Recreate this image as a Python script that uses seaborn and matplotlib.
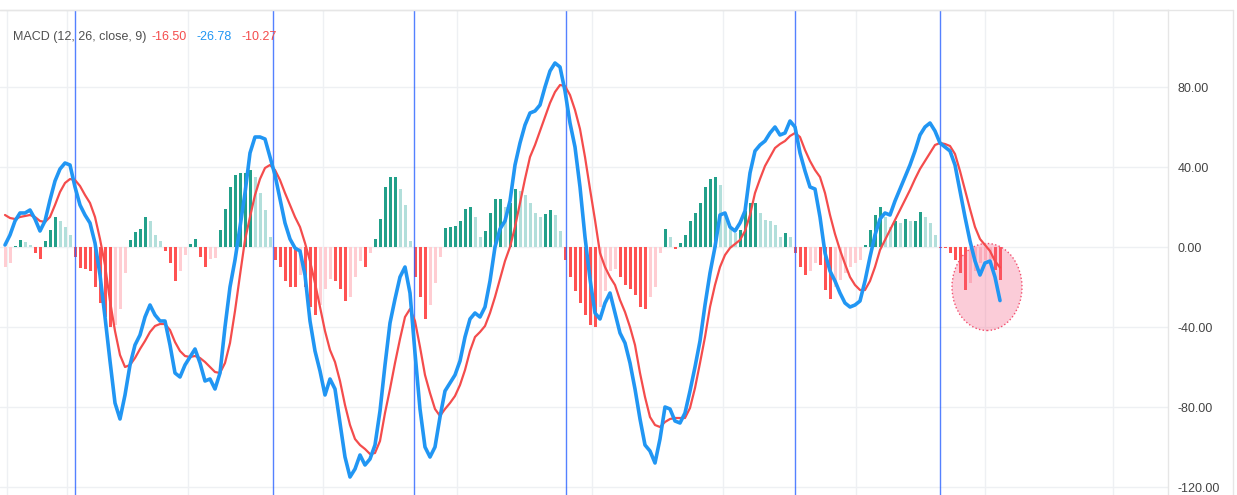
#!/usr/bin/env python3

import numpy as np
import pandas as pd
import matplotlib
matplotlib.use("Agg")
import matplotlib.pyplot as plt
from matplotlib.patches import Ellipse
from matplotlib.lines import Line2D
import seaborn as sns

# MACD line values, one per bar
macd = [
    1, 6, 13, 17, 17, 18.5, 14, 8, 13, 23.5,
    33, 39, 42, 41, 30, 21, 16, 12, 2, -14,
    -35, -57, -78, -86, -74, -59, -49, -44, -35, -29,
    -34, -37, -37, -49, -63, -65, -59, -55, -51, -58,
    -67, -66, -71, -63, -40, -20, -6.5, 10, 27, 47,
    55, 55, 54, 45, 36, 24, 12, 4, -0.5, -2,
    -14, -37, -52, -62, -74, -66, -71, -88, -105, -115,
    -111, -104, -109, -106, -99, -82, -59, -38, -26, -15,
    -10, -23, -53, -81, -100, -105, -100, -85, -72, -68,
    -64, -57, -45, -36, -33, -35, -30, -17, 0, 9,
    13, 23, 41, 52, 61, 67, 68, 71, 80, 88,
    92, 90, 78, 62, 50, 30, 5, -16, -33, -36,
    -28, -23, -33, -43, -48, -58, -71, -86, -99, -102,
    -108, -96, -80, -81, -87, -88, -83, -72, -60, -47,
    -29, -13, 0, 16, 17, 10, 8, 12, 18, 37,
    48, 51, 53, 57, 60, 56, 57, 63, 60, 47,
    38, 30, 29, 15, -3, -12, -17, -23, -28, -30,
    -29, -27, -17, -5, 6, 14, 17, 16, 23, 29,
    35, 41, 48, 56, 60, 62, 58, 52, 50, 48,
    41, 28, 15, 3, -7, -14, -8, -7, -15, -26.78,
]

# signal line
signal = [
    16, 14.5, 14, 15, 15.5, 16, 15, 13, 12.5, 15,
    21, 27.5, 32, 34, 33.5, 30.5, 26, 22, 15, 4,
    -9, -27, -42, -54, -60, -59, -55.5, -51, -47, -42.5,
    -39.5, -38.5, -38.5, -41.5, -47.5, -52, -54.5, -55, -54.5, -55.5,
    -57.5, -60, -62.5, -63, -58, -48, -32, -14, 3.5, 15,
    26, 34, 39.5, 41, 38.5, 33.5, 27, 21, 15, 10,
    2, -7, -18, -30, -42, -51.5, -57.5, -67, -79, -89,
    -96, -99, -101, -103.5, -103, -97, -83, -71, -58, -46,
    -35, -31, -37, -50, -64, -73, -81, -84.5, -81, -78,
    -74.5, -69, -61.5, -52, -45, -42.5, -39.5, -33, -25, -16,
    -7, 0, 10, 22, 34, 45, 51, 58, 65, 72,
    77.5, 81, 80.5, 76, 68.5, 59, 45, 29, 13.5, -3,
    -10, -15, -19, -26.5, -32.5, -40, -49, -63, -75, -85,
    -89, -90, -87.5, -86, -85.5, -85.5, -85.5, -80.5, -70.5, -58,
    -45, -30, -19, -10, -4, -0.5, 1.5, 3.5, 8, 16,
    27, 34, 40.5, 45, 49.5, 51.5, 53, 55.5, 57, 55,
    48.5, 43, 38.5, 35, 27, 16, 6.5, -1.5, -8.5, -15,
    -19, -21.5, -21.5, -17, -10, -1.5, 3.5, 8.5, 13.5, 18.5,
    23.5, 28.5, 34, 39, 43, 47, 51, 52, 51.5, 50.5,
    46.5, 38, 28.5, 19, 10, 4, 1, -2, -7, -10.27,
]

# histogram bars
hist = [
    -10, -8, 0.5, 3.5, 2.5, 1, -3, -6, 3, 8.5,
    15, 13, 10, 6, -5, -10.5, -11, -12, -20, -28,
    -35, -40, -39, -31, -13, 3.5, 7.5, 9, 15, 13,
    6, 3, -2, -8, -17, -12, -4, 1.5, 4, -5,
    -10, -6, -5.5, 8.5, 19, 30, 36, 37, 37, 38.5,
    35, 27, 18.5, 5, -6.5, -10, -17, -20, -20, -14,
    -20, -30, -34, -29, -21, -16, -17, -21, -27, -25,
    -15, -7, -10, -3, 4, 14, 30, 35, 35, 29,
    21, 3, -15, -25, -36, -29, -18, -5, 9.5, 10,
    10.5, 13, 19, 20, 15, 5, 8, 17, 24, 24,
    20, 22, 29, 28, 26, 22, 17, 15, 16.5, 18.5,
    16, 8, -6.5, -15, -22, -28, -34, -39, -40, -30,
    -22, -12, -11, -15, -19, -21, -24, -30, -31, -25,
    -20, -3, 9, 5, -1, 2, 6, 13, 17, 22,
    30, 34, 35, 31, 17, 10, 7, 8.5, 18, 22,
    22, 17, 13.5, 13, 11, 5, 7, 5, -3, -10,
    -14, -12, -8, -9, -21.5, -26, -20, -16.5, -13, -10,
    -8, -6.5, 1, 8.5, 16, 20, 15, 10, 13, 12,
    14, 13, 13, 17.7, 15, 11.8, 6, -0.5, -0.7, -3,
    -6.5, -13, -21.5, -18, -12, -8, -6.5, -6, -11.5, -16.5,
]

# bar positions of the blue vertical markers and of the time grid
event_bars = [14, 53.6, 81.8, 112.2, 158, 187]
grid_bars = [0.4, 12.4, 36.6, 63.6, 90.4, 117.4, 143.6, 170.2, 196, 221.6]
y_ticks = [-120, -80, -40, 0, 40, 80]
title = "MACD (12, 26, close, 9)"
last_vals = ["-16.50", "-26.78", "-10.27"]

sns.set_theme(style="white")
plt.rcParams['font.family'] = ['Liberation Sans', 'DejaVu Sans']

df = pd.DataFrame({'bar': np.arange(len(macd)), 'macd': macd,
                   'signal': signal, 'hist': hist})


# tradingview histogram colouring: strong when growing, pale when shrinking
def bar_color(h, prev):
    if h >= 0:
        return '#22a08a' if h >= prev else '#b2dfdb'
    return '#ff5252' if h <= prev else '#ffcdd2'


prev = df['hist'].shift(1).fillna(-20)
df['color'] = [bar_color(h, p) for h, p in zip(df['hist'], prev)]

fig = plt.figure(figsize=(12.37, 4.95), dpi=100)
ax = fig.add_axes([0, 0, 1168 / 1237, 485 / 495])

ax.bar(df['bar'], df['hist'], width=0.6, color=df['color'], lw=0, zorder=2)

for b in event_bars:
    ax.axvline(b, color='#2962ff', lw=1, alpha=0.8, zorder=3)

# highlight circle round the last bars
ax.add_patch(Ellipse((196.4, -20), 14, 43.5, facecolor=(0.96, 0.35, 0.5, 0.3),
                     edgecolor='#f2506e', lw=1, ls=':', zorder=4))

sns.lineplot(data=df, x='bar', y='signal', color='#f44c4c', lw=1.6,
             ax=ax, legend=False, zorder=5)
sns.lineplot(data=df, x='bar', y='macd', color='#2196f3', lw=2.6,
             ax=ax, legend=False, zorder=6)

ax.set_xlim(-1, 232.6)
ax.set_ylim(-124, 118.5)
ax.set_xticks(grid_bars)
ax.set_xticklabels([])
ax.set_yticks(y_ticks)
ax.set_yticklabels([f"{v:.2f}" for v in y_ticks])
ax.yaxis.tick_right()
ax.tick_params(axis='x', length=0)
ax.tick_params(axis='y', length=0, pad=7, labelsize=9, labelcolor='#444444')
ax.set_xlabel('')
ax.set_ylabel('')
ax.grid(True, color='#eef0f3', lw=1)
ax.set_axisbelow(True)
for side in ['left', 'bottom']:
    ax.spines[side].set_visible(False)
for side in ['top', 'right']:
    ax.spines[side].set_color('#e6e6e6')
    ax.spines[side].set_linewidth(1)

# border of the price scale panel
fig.add_artist(Line2D([0, 1233 / 1237], [1 - 10 / 495] * 2,
                      transform=fig.transFigure, color='#e6e6e6', lw=1))
fig.add_artist(Line2D([1233 / 1237] * 2, [0, 1 - 10 / 495],
                      transform=fig.transFigure, color='#e6e6e6', lw=1))

# indicator header
ty = 1 - 37 / 495
fig.text(13 / 1237, ty, title, color='#505050', fontsize=9, va='center')
for xp, txt, col in zip([152, 197, 242], last_vals,
                        ['#f44c4c', '#2196f3', '#f44c4c']):
    fig.text(xp / 1237, ty, txt, color=col, fontsize=9, va='center')

fig.savefig('out.png', dpi=100)
